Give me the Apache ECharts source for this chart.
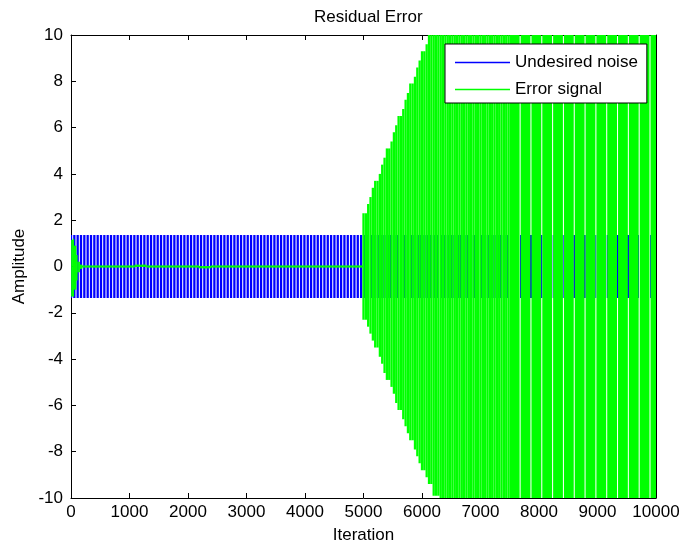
<!DOCTYPE html>
<html>
<head>
<meta charset="utf-8">
<title>Residual Error</title>
<script src="https://cdn.jsdelivr.net/npm/echarts@6/dist/echarts.min.js"></script>
<style>
  html, body { margin: 0; padding: 0; background: #fff; }
  #chart { width: 685px; height: 549px; }
</style>
</head>
<body>
<div id="chart"></div>
<script>
// Envelope of the undesired noise (upper / lower peak per iteration range)
const noiseKnots = [0, 10000];
const noiseHi = [1.36, 1.36];
const noiseLo = [-1.36, -1.36];

// Envelope of the error signal: start-up transient, converged phase,
// then divergence after iteration 5000
const errKnots = [0, 30, 60, 90, 120, 160, 200, 1100, 1300, 2200, 2400,
  5000, 5050, 5100, 5150, 5200, 5250, 5300, 5350, 5400, 5450, 5500, 5550,
  5600, 5650, 5700, 5750, 5800, 5850, 5900, 5950, 6000, 6050,
  6100, 6200, 6300, 6500, 7000, 8000];
const errHi = [1.15, 1.2, 0.9, 0.5, 0.2, 0.08, 0.045, 0.08, 0.045, 0.02, 0.045,
  2.3, 2.7, 3.0, 3.4, 3.7, 4.0, 4.4, 4.7, 5.1, 5.4, 5.8, 6.1,
  6.5, 6.8, 7.2, 7.5, 7.9, 8.2, 8.6, 8.9, 9.3, 9.6,
  10.0, 10.7, 11.4, 12.5, 13.5, 14];
const errLo = [-1.3, -1.3, -1.0, -0.6, -0.25, -0.1, -0.045, -0.02, -0.045, -0.08, -0.045,
  -2.3, -2.6, -2.9, -3.2, -3.5, -3.9, -4.2, -4.6, -4.9, -5.2, -5.5, -5.9,
  -6.2, -6.6, -6.9, -7.2, -7.5, -7.9, -8.2, -8.5, -8.8, -9.1,
  -9.4, -9.9, -10.5, -11.5, -13, -14];

const xTicks = [0, 1000, 2000, 3000, 4000, 5000, 6000, 7000, 8000, 9000, 10000];
const yTicks = [-10, -8, -6, -4, -2, 0, 2, 4, 6, 8, 10];

// Oscillation strokes: one vertical stroke per half cycle, spanning lo..hi
function strokes(knots, hi, lo, from, to, step) {
  const out = [];
  for (let x = from; x <= to; x += step) {
    let k = 0;
    while (k + 1 < knots.length && knots[k + 1] <= x) k++;
    out.push([x, lo[k], hi[k]]);
  }
  return out;
}

function strokeSeries(name, color, data, widthPx) {
  return {
    type: 'custom',
    name: name,
    xAxisIndex: 0,
    yAxisIndex: 0,
    animation: false,
    silent: true,
    clip: true,
    itemStyle: { color: color },
    encode: { x: 0, y: [1, 2] },
    data: data,
    renderItem: function (params, api) {
      const top = api.coord([api.value(0), api.value(2)]);
      const bot = api.coord([api.value(0), api.value(1)]);
      const shape = echarts.graphic.clipRectByRect(
        { x: top[0] - widthPx / 2, y: top[1], width: widthPx, height: Math.max(bot[1] - top[1], 1) },
        params.coordSys
      );
      if (!shape) return null;
      return { type: 'rect', shape: shape, style: { fill: color } };
    }
  };
}

const BLUE = '#0000ff';
const GREEN = '#00ff00';
const FONT = "'Liberation Sans', Arial, Helvetica, sans-serif";

const chart = echarts.init(document.getElementById('chart'), null, { renderer: 'canvas' });

const axisCommon = {
  type: 'value',
  axisLine: { show: true, onZero: false, lineStyle: { color: '#000', width: 1 } },
  axisTick: { show: true, inside: true, length: 5, lineStyle: { color: '#000', width: 1 } },
  splitLine: { show: false },
  axisLabel: { color: '#000', fontSize: 17, fontFamily: FONT }
};

chart.setOption({
  animation: false,
  backgroundColor: '#fff',
  title: {
    text: 'Residual Error',
    left: 309,
    top: 4,
    textStyle: { color: '#000', fontSize: 17, fontWeight: 'normal', fontFamily: FONT }
  },
  grid: { left: 71, right: 29, top: 35, bottom: 51, containLabel: false },
  legend: {
    left: 445,
    top: 44,
    orient: 'vertical',
    backgroundColor: '#fff',
    borderColor: '#000',
    borderWidth: 1,
    borderRadius: 0,
    padding: [10, 9, 5, 10],
    itemWidth: 55,
    itemHeight: 1.5,
    itemGap: 10,
    textStyle: { color: '#000', fontSize: 17, fontFamily: FONT },
    data: [
      { name: 'Undesired noise', icon: 'rect' },
      { name: 'Error signal', icon: 'rect' }
    ]
  },
  xAxis: [
    Object.assign({}, axisCommon, {
      position: 'bottom',
      min: xTicks[0], max: xTicks[xTicks.length - 1], interval: xTicks[1] - xTicks[0],
      name: 'Iteration',
      nameLocation: 'middle',
      nameGap: 29,
      nameTextStyle: { color: '#000', fontSize: 17, fontFamily: FONT },
      axisLabel: Object.assign({}, axisCommon.axisLabel, { margin: 6, formatter: v => String(v) })
    }),
    Object.assign({}, axisCommon, {
      position: 'top',
      min: xTicks[0], max: xTicks[xTicks.length - 1], interval: xTicks[1] - xTicks[0],
      axisLabel: { show: false }
    })
  ],
  yAxis: [
    Object.assign({}, axisCommon, {
      position: 'left',
      min: yTicks[0], max: yTicks[yTicks.length - 1], interval: yTicks[1] - yTicks[0],
      name: 'Amplitude',
      nameLocation: 'middle',
      nameGap: 43,
      nameTextStyle: { color: '#000', fontSize: 17, fontFamily: FONT },
      axisLabel: Object.assign({}, axisCommon.axisLabel, { margin: 8, formatter: v => String(v) })
    }),
    Object.assign({}, axisCommon, {
      position: 'right',
      min: yTicks[0], max: yTicks[yTicks.length - 1], interval: yTicks[1] - yTicks[0],
      axisLabel: { show: false }
    })
  ],
  series: [
    strokeSeries('Undesired noise', BLUE, strokes(noiseKnots, noiseHi, noiseLo, 0, 10000, 57), 2.3),
    strokeSeries('Error signal', GREEN, strokes(errKnots, errHi, errLo, 0, 4990, 20), 1.5),
    strokeSeries('Error signal', GREEN, strokes(errKnots, errHi, errLo, 5000, 7560, 40), 2.3),
    strokeSeries('Error signal', GREEN, strokes(errKnots, errHi, errLo, 7585, 10000, 185), 9.8)
  ]
});
</script>
</body>
</html>
